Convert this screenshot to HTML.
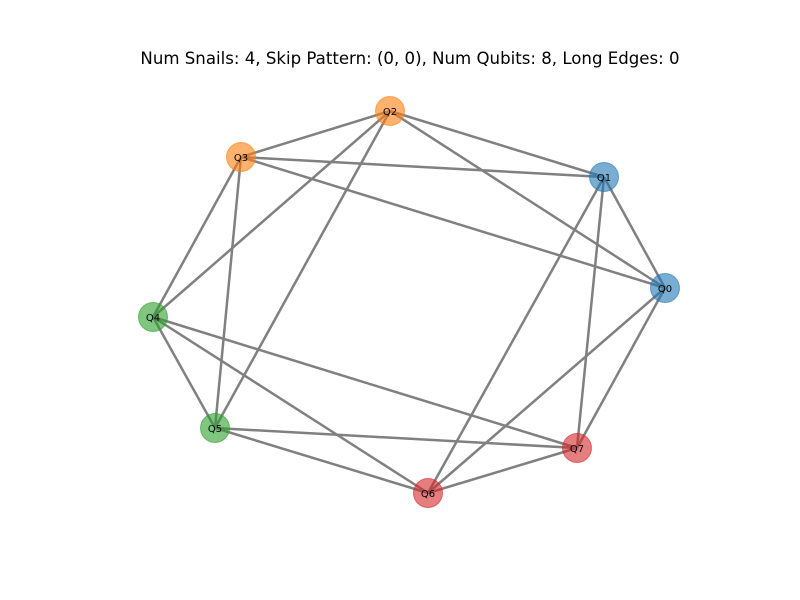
<!DOCTYPE html>
<html><head><meta charset="utf-8"><style>
html,body{margin:0;padding:0;background:#fff;}
svg{display:block;}
</style></head><body>
<svg id="chart" width="800" height="600" xmlns="http://www.w3.org/2000/svg">
<rect width="800" height="600" fill="#fff"/>
<text x="410" y="64" text-anchor="middle" font-family="DejaVu Sans, sans-serif" font-size="16.6" fill="#000">Num Snails: 4, Skip Pattern: (0, 0), Num Qubits: 8, Long Edges: 0</text>
<g id="edges"></g><g id="nodes"></g>
</svg>
<script>
const nodeLabels = ["Q0","Q1","Q2","Q3","Q4","Q5","Q6","Q7"];
const nodeX = [665,604,390,241,153,215,428,577];
const nodeY = [288,177,111,157,317,428,493,448];
const nodeGroup = [0,0,1,1,2,2,3,3];
const edgeFrom = [2,2,2,2,2,3,3,3,3,1,1,1,0,0,4,4,4,5,5,6];
const edgeTo   = [3,1,0,4,5,1,0,4,5,0,6,7,6,7,5,7,6,7,6,7];
const groupColors = ["#1f77b4","#ff7f0e","#2ca02c","#d62728"];
const NS="http://www.w3.org/2000/svg";
const eg=document.getElementById('edges'), ng=document.getElementById('nodes');
for(let i=0;i<edgeFrom.length;i++){
  const a=edgeFrom[i],b=edgeTo[i];
  const l=document.createElementNS(NS,'line');
  l.setAttribute('x1',nodeX[a]);l.setAttribute('y1',nodeY[a]);
  l.setAttribute('x2',nodeX[b]);l.setAttribute('y2',nodeY[b]);
  l.setAttribute('stroke','#808080');l.setAttribute('stroke-width','2.5');
  
  
  eg.appendChild(l);
}
for(let i=0;i<nodeLabels.length;i++){
  const g=document.createElementNS(NS,'g');
  
  
  const c=document.createElementNS(NS,'circle');
  c.setAttribute('cx',nodeX[i]);c.setAttribute('cy',nodeY[i]);c.setAttribute('r','14.5');
  c.setAttribute('fill',groupColors[nodeGroup[i]]);c.setAttribute('fill-opacity','0.6');
  c.setAttribute('stroke',groupColors[nodeGroup[i]]);c.setAttribute('stroke-opacity','0.6');
  g.appendChild(c);
  const t=document.createElementNS(NS,'text');
  t.setAttribute('x',nodeX[i]);t.setAttribute('y',nodeY[i]+4);
  t.setAttribute('text-anchor','middle');t.setAttribute('font-size','10');
  t.setAttribute('font-family','DejaVu Sans, sans-serif');
  t.textContent=nodeLabels[i];
  g.appendChild(t);
  ng.appendChild(g);
}
</script>
</body></html>
